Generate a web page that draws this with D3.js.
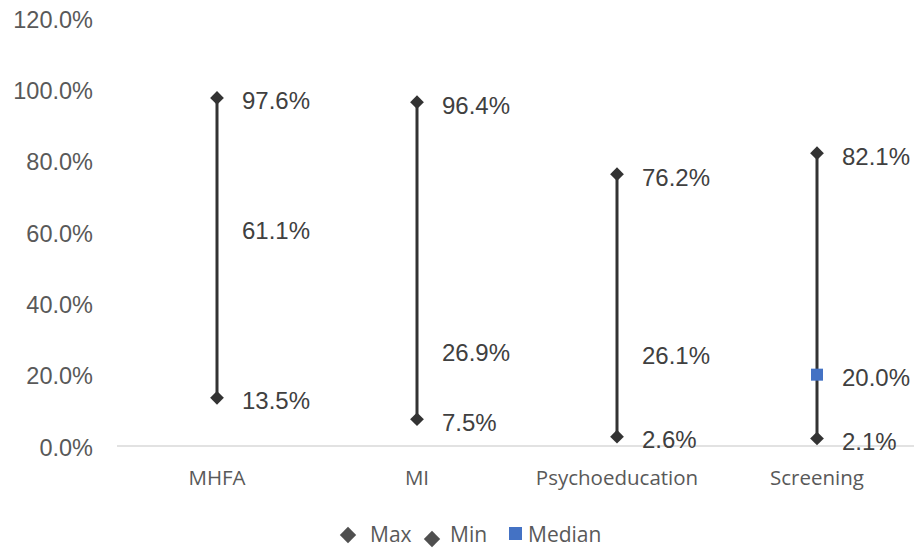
<!DOCTYPE html>
<html>
<head>
<meta charset="utf-8">
<script src="https://cdn.jsdelivr.net/npm/d3@7"></script>
<style>
  html, body { margin: 0; padding: 0; background: #fff; }
  svg { display: block; }
</style>
</head>
<body>
<svg id="chart" width="914" height="550"></svg>
<script>
// Range of reported rates per intervention type
const categories = ["MHFA", "MI", "Psychoeducation", "Screening"];
const maxValues = [97.6, 96.4, 76.2, 82.1];
const minValues = [13.5, 7.5, 2.6, 2.1];
const medianValues = [61.1, 26.9, 26.1, 20.0];
const medianMarkerShown = [false, false, false, true];
const yTicks = [0, 20, 40, 60, 80, 100, 120];

const svg = d3.select("#chart");
const margin = { left: 117, right: -3, top: 18, bottom: 104 };
const W = 914, H = 550;

const x = d3.scaleBand().domain(categories).range([margin.left, W - margin.right]);
const y = d3.scaleLinear().domain([0, 120]).range([H - margin.bottom, margin.top]);

const valueFont = "'Liberation Sans', Arial, sans-serif";
const catFont = "'Open Sans', 'Noto Sans', sans-serif";
const textColor = "#404040";
const axisColor = "#595959";
const markColor = "#333333";
const medianColor = "#4472C4";

// Y axis labels (no axis line)
const yAxis = d3.axisLeft(y).tickValues(yTicks).tickSize(0).tickPadding(0)
  .tickFormat(d => d.toFixed(1) + "%");
const gy = svg.append("g").attr("transform", `translate(${93},0)`).call(yAxis);
gy.select(".domain").remove();
gy.selectAll("text")
  .attr("font-family", valueFont).attr("font-size", 23.5)
  .attr("fill", axisColor).attr("dy", "0.35em").attr("y", 1);

// Baseline at 0%
svg.append("line")
  .attr("x1", margin.left).attr("x2", W)
  .attr("y1", y(0)).attr("y2", y(0))
  .attr("stroke", "#d9d9d9").attr("stroke-width", 1.5);

// Category axis labels
const xAxis = d3.axisBottom(x).tickSize(0).tickPadding(0);
const gx = svg.append("g").attr("transform", `translate(0,${y(0)})`).call(xAxis);
gx.select(".domain").remove();
gx.selectAll("text")
  .attr("font-family", catFont).attr("font-size", 20.5)
  .attr("fill", axisColor).attr("dy", "0").attr("y", 39);

const cx = c => x(c) + x.bandwidth() / 2;

// High-low lines
svg.append("g").selectAll("line").data(categories).join("line")
  .attr("x1", cx).attr("x2", cx)
  .attr("y1", (c, i) => y(maxValues[i]))
  .attr("y2", (c, i) => y(minValues[i]))
  .attr("stroke", markColor).attr("stroke-width", 3);

const diamond = d3.symbol().type(d3.symbolDiamond2).size(120);

function drawDiamonds(values) {
  svg.append("g").selectAll("path").data(categories).join("path")
    .attr("d", diamond)
    .attr("transform", (c, i) => `translate(${cx(c)},${y(values[i])})`)
    .attr("fill", markColor);
}
drawDiamonds(maxValues);
drawDiamonds(minValues);

// Median markers
svg.append("g").selectAll("rect")
  .data(categories.filter((c, i) => medianMarkerShown[i]))
  .join("rect")
  .attr("x", c => cx(c) - 6)
  .attr("y", c => y(medianValues[categories.indexOf(c)]) - 6)
  .attr("width", 12).attr("height", 12)
  .attr("fill", medianColor);

// Value labels
function drawLabels(values) {
  svg.append("g").selectAll("text").data(categories).join("text")
    .attr("x", c => cx(c) + 25)
    .attr("y", (c, i) => y(values[i]) + 3)
    .attr("dy", "0.35em")
    .attr("font-family", valueFont).attr("font-size", 24)
    .attr("fill", textColor)
    .text((c, i) => values[i].toFixed(1) + "%");
}
drawLabels(maxValues);
drawLabels(minValues);
drawLabels(medianValues);

// Legend
const legend = svg.append("g").attr("font-family", catFont).attr("font-size", 21).attr("fill", axisColor);
const ly = 535;
const legendDiamond = d3.symbol().type(d3.symbolDiamond2).size(170);
legend.append("path").attr("d", legendDiamond).attr("transform", `translate(348,${ly})`).attr("fill", "#4f4f4f");
legend.append("text").attr("x", 370).attr("y", ly).attr("dy", "0.35em").text("Max");
legend.append("path").attr("d", legendDiamond).attr("transform", `translate(432,${ly + 4})`).attr("fill", "#4f4f4f");
legend.append("text").attr("x", 450).attr("y", ly).attr("dy", "0.35em").text("Min");
legend.append("rect").attr("x", 509).attr("y", ly - 8).attr("width", 13).attr("height", 13).attr("fill", medianColor);
legend.append("text").attr("x", 528).attr("y", ly).attr("dy", "0.35em").text("Median");
</script>
</body>
</html>
